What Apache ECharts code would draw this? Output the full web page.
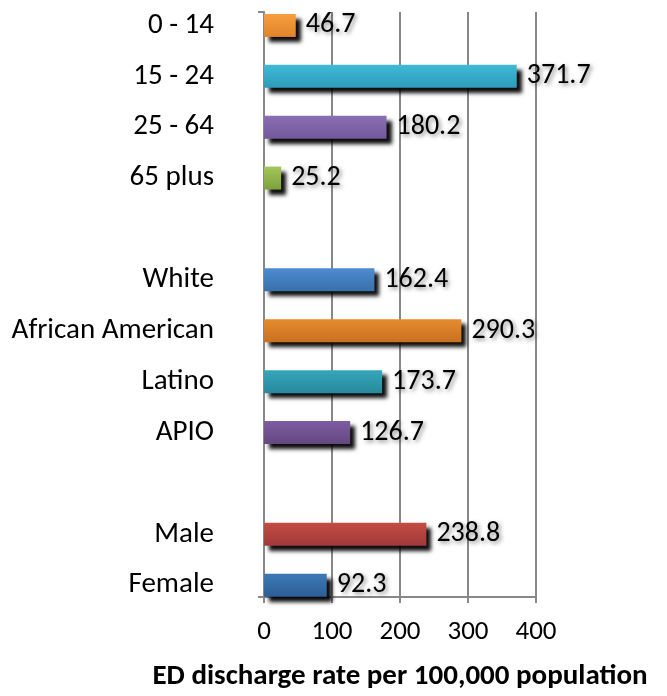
<!DOCTYPE html>
<html>
<head>
<meta charset="utf-8">
<script src="https://cdn.jsdelivr.net/npm/echarts@6/dist/echarts.min.js"></script>
<style>
  html, body { margin: 0; padding: 0; background: #fff; }
  #chart { width: 667px; height: 696px; }
</style>
</head>
<body>
<div id="chart"></div>
<script>
// Groups are separated by blank rows in the category list
const rowNames = ['0 - 14', '15 - 24', '25 - 64', '65 plus', ' ',
  'White', 'African American', 'Latino', 'APIO', '  ',
  'Male', 'Female'];
const rates = [46.7, 371.7, 180.2, 25.2, null,
  162.4, 290.3, 173.7, 126.7, null,
  238.8, 92.3];
// top / bottom colour of each bar's gradient
const barTop = ['#F5A040', '#40BAD6', '#8C6EB3', '#A2C65A', null,
  '#4D8BD0', '#E68C30', '#36A6BB', '#7D5CA0', null,
  '#C44C44', '#3D79B6'];
const barBottom = ['#E2832A', '#2C9CBA', '#72599C', '#7EA03C', null,
  '#3A6FAA', '#C87020', '#288A9D', '#634880', null,
  '#A2393A', '#2C5E96'];
const xTicks = [0, 100, 200, 300, 400];
const axisTitle = 'ED discharge rate per 100,000 population';

const FONT = 'Carlito, Calibri, "Open Sans", sans-serif';
const xMin = xTicks[0], xMax = xTicks[xTicks.length - 1];
const step = xTicks[1] - xTicks[0];
const frameLine = { color: '#888888', width: 2 };

const barData = rates.map((v, i) => v == null ? null : {
  value: v,
  itemStyle: {
    color: new echarts.graphic.LinearGradient(0, 0, 0, 1, [
      { offset: 0, color: barTop[i] },
      { offset: 1, color: barBottom[i] }
    ])
  }
});

const chart = echarts.init(document.getElementById('chart'), null, { renderer: 'canvas' });
chart.setOption({
  animation: false,
  backgroundColor: '#ffffff',
  grid: [
    // bars
    { left: 264, right: 131, top: -3.6, height: 614.2, containLabel: false },
    // frame, grid lines and value axis
    { left: 264, right: 131, top: 12, bottom: 99, containLabel: false }
  ],
  xAxis: [
    { gridIndex: 0, type: 'value', min: xMin, max: xMax, interval: step, show: false },
    {
      gridIndex: 1, type: 'value', min: xMin, max: xMax, interval: step,
      axisLine: { show: true, lineStyle: frameLine },
      axisTick: { show: true, length: 6, lineStyle: frameLine },
      splitLine: { show: true, lineStyle: frameLine },
      axisLabel: { margin: 22, color: '#000', fontFamily: FONT, fontSize: 27 },
      name: axisTitle,
      nameLocation: 'middle',
      nameGap: 65,
      nameTextStyle: { color: '#000', fontFamily: FONT, fontSize: 29, fontWeight: 'bold' }
    }
  ],
  yAxis: [
    {
      gridIndex: 0, type: 'category', data: rowNames, inverse: true,
      axisLine: { show: false }, axisTick: { show: false }, splitLine: { show: false },
      axisLabel: { margin: 50, color: '#000', fontFamily: FONT, fontSize: 29 }
    },
    {
      gridIndex: 1, type: 'category', data: [''],
      axisLine: { show: true, lineStyle: frameLine },
      axisTick: { show: true, length: 6, lineStyle: frameLine },
      axisLabel: { show: false }, splitLine: { show: false }
    }
  ],
  series: [{
    type: 'bar',
    xAxisIndex: 0, yAxisIndex: 0,
    data: barData,
    barWidth: 23,
    itemStyle: {
      shadowColor: 'rgba(0,0,0,0.95)',
      shadowBlur: 4,
      shadowOffsetX: 5,
      shadowOffsetY: 5
    },
    label: {
      show: true,
      position: 'right',
      distance: 10,
      color: '#000',
      fontFamily: FONT,
      fontSize: 28,
      formatter: p => p.value == null ? '' : Number(p.value).toFixed(1),
      textShadowColor: 'rgba(0,0,0,0.45)',
      textShadowBlur: 4,
      textShadowOffsetX: 2,
      textShadowOffsetY: 2
    }
  }]
});
</script>
</body>
</html>
